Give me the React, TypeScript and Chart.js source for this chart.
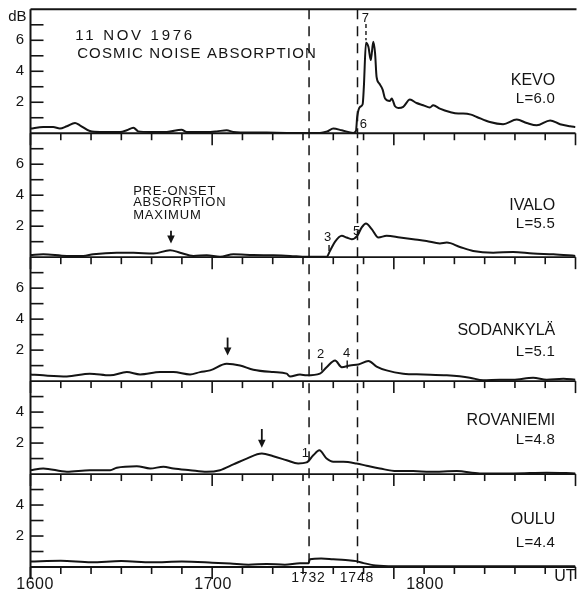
import { useEffect, useRef } from "react";
import { Chart, registerables } from "chart.js";

Chart.register(...registerables);

// Time in minutes after 1600 UT, absorption in dB
const kevoTime = [0, 4.2, 7.5, 9.7, 12, 14.7, 16.3, 19.6, 23, 29.6, 31.8, 34, 35.6, 39.5, 45, 49.9, 51.6, 58.2, 61.5, 64.8, 67, 72.5, 78, 84.6, 95.6, 98, 100, 102.8, 106.6, 107.5, 107.9, 108.8, 109.7, 110.1, 110.8, 111.6, 112.4, 113.2, 113.8, 114.3, 115.2, 116.3, 117.1, 118.7, 119.3, 120.4, 121.5, 123.1, 125.3, 127.5, 129.7, 131.9, 133, 135.2, 138.5, 141.3, 142.9, 145.5, 147.4, 151.7, 156.1, 160.6, 163.9, 167.2, 171.6, 174.9, 178.2, 180];
const kevoDb = [0.3, 0.4, 0.4, 0.3, 0.45, 0.66, 0.51, 0.14, 0.08, 0.08, 0.19, 0.36, 0.12, 0.08, 0.08, 0.23, 0.08, 0.08, 0.12, 0.19, 0.08, 0.04, 0.04, 0.02, 0.02, 0.12, 0.3, 0.19, 0.02, 0.15, 1.05, 1.7, 1.87, 2.99, 5.84, 5.58, 4.72, 5.9, 5.17, 3.64, 3.21, 2.82, 2.24, 2.08, 2.24, 1.74, 1.63, 1.7, 2.17, 1.95, 1.81, 1.66, 1.81, 1.59, 1.37, 1.27, 1.27, 1.2, 1.05, 0.72, 0.58, 0.88, 0.66, 0.51, 0.83, 0.58, 0.45, 0.4];

const ivaloTime = [0, 4.2, 12, 17.4, 20.7, 28.5, 34, 40.6, 46.1, 49.4, 53.8, 58.2, 62.6, 67, 73.6, 80.2, 85.7, 91.2, 97.8, 98.9, 100.6, 102.8, 104.4, 106.1, 107.9, 109.4, 110.8, 112.7, 114.9, 117.6, 122, 126.4, 130.8, 135.2, 137.5, 141.8, 146.2, 152.8, 159.4, 166, 172.7, 180];
const ivaloDb = [0.14, 0.19, 0.08, 0.08, 0.19, 0.29, 0.29, 0.23, 0.45, 0.29, 0.08, 0.12, 0.02, 0.19, 0.14, 0.12, 0.08, 0.02, 0.02, 0.4, 1.0, 1.38, 1.27, 1.16, 1.38, 1.92, 2.18, 1.81, 1.27, 1.38, 1.27, 1.16, 1.05, 0.88, 0.94, 0.66, 0.4, 0.29, 0.34, 0.23, 0.19, 0.08];

const sodankylaTime = [0, 4.2, 12, 19.6, 26.3, 31.8, 36.2, 42.8, 47.2, 52.7, 56, 59.3, 64.8, 69.2, 73.6, 80.2, 84.6, 85.7, 89, 91.2, 95.6, 97.8, 100.6, 102.8, 105.5, 108.3, 111.6, 114.3, 117.6, 123.1, 129.7, 137.5, 145.1, 149.5, 155, 159.4, 166, 170.5, 176, 180];
const sodankylaDb = [0.43, 0.37, 0.3, 0.48, 0.37, 0.58, 0.43, 0.58, 0.58, 0.43, 0.58, 0.69, 1.12, 1.01, 0.73, 0.58, 0.48, 0.3, 0.43, 0.37, 0.48, 0.9, 1.33, 0.9, 1.01, 1.07, 1.29, 0.94, 0.69, 0.48, 0.43, 0.37, 0.22, 0.05, 0.09, 0.09, 0.22, 0.09, 0.15, 0.09];

const rovaniemiTime = [0, 4.2, 12, 19.6, 26.3, 28.5, 35.1, 39.5, 43.9, 47.2, 52.7, 58.2, 62.6, 67, 71.4, 76.4, 80.2, 84.6, 88.4, 91.2, 93.4, 95.4, 97.8, 100, 103.3, 107.7, 111, 115.4, 120.9, 126.4, 131.9, 140.8, 148.4, 159.4, 170.5, 180];
const rovaniemiDb = [0.25, 0.36, 0.15, 0.25, 0.25, 0.41, 0.51, 0.36, 0.47, 0.36, 0.25, 0.15, 0.25, 0.62, 1.0, 1.32, 1.15, 0.89, 0.68, 0.75, 1.21, 1.53, 1.0, 0.79, 0.79, 0.68, 0.54, 0.36, 0.19, 0.19, 0.15, 0.19, 0.04, 0.04, 0.09, 0.04];

const ouluTime = [0, 10, 20, 30, 40, 50, 60, 66, 72, 78, 84, 89, 91.8, 92.3, 96, 100, 104, 107.6, 110, 114, 120, 135, 150, 165, 180];
const ouluDb = [0.35, 0.4, 0.3, 0.38, 0.3, 0.35, 0.28, 0.22, 0.15, 0.2, 0.15, 0.25, 0.25, 0.5, 0.55, 0.5, 0.45, 0.38, 0.25, 0.1, 0.05, 0.05, 0.05, 0.05, 0.05];

const stationNames = ["KEVO", "IVALO", "SODANKYLÄ", "ROVANIEMI", "OULU"];
const stationL = ["L=6.0", "L=5.5", "L=5.1", "L=4.8", "L=4.4"];
const panelMax = [8, 8, 8, 6, 6];
const yTickLabels = ["2", "4", "6"];

const xTickStep = 10; // minutes
const xLabels = ["1600", "1700", "1732", "1748", "1800"];
const onsetTimes = [92, 108]; // 1732 and 1748 UT

const seriesTime = [kevoTime, ivaloTime, sodankylaTime, rovaniemiTime, ouluTime];
const seriesDb = [kevoDb, ivaloDb, sodankylaDb, rovaniemiDb, ouluDb];
const panelIds = ["yKevo", "yIvalo", "ySod", "yRov", "yOulu"];

const FONT = '"Liberation Sans", Arial, Helvetica, sans-serif';
const INK = "#141414";

// annotation layout (positions in time / dB of each panel)
const xLabelAt = [1.5, 60.3, 91.8, 107.8, 130.3];
const xLabelInner = [false, false, true, true, false];
const nameDb = [3.39, 3.32, 3.29, 3.45, 3.09];
const lDb = [2.19, 2.16, 1.91, 2.21, 1.58];
const arrows = [
  { panel: 1, t: 46.4, from: 1.7, to: 0.88 },
  { panel: 2, t: 65.1, from: 2.81, to: 1.65 },
  { panel: 3, t: 76.4, from: 2.91, to: 1.7 },
];
const markers = [
  { panel: 0, text: "7", t: 110.6, db: 7.4 },
  { panel: 0, text: "6", t: 109.9, db: 0.6 },
  { panel: 1, text: "3", t: 98.1, db: 1.28 },
  { panel: 1, text: "5", t: 107.7, db: 1.67 },
  { panel: 2, text: "2", t: 95.8, db: 1.72 },
  { panel: 2, text: "4", t: 104.4, db: 1.81 },
  { panel: 3, text: "1", t: 90.8, db: 1.35 },
];
const markerTicks = [
  { panel: 1, t: 98.6, from: 0.79, to: 0.4, dash: false },
  { panel: 2, t: 96.2, from: 1.2, to: 0.69, dash: false },
  { panel: 2, t: 104.6, from: 1.33, to: 0.82, dash: false },
  { panel: 0, t: 110.8, from: 7.05, to: 6.0, dash: true },
];

const overlay = {
  id: "overlay",
  afterDatasetsDraw(chart: any) {
    const ctx: CanvasRenderingContext2D = chart.ctx;
    const xs = chart.scales.x;
    const area = chart.chartArea;
    const X = (t: number) => xs.getPixelForValue(t);
    const Y = (p: number, v: number) => chart.scales[panelIds[p]].getPixelForValue(v);
    const seg = (x1: number, y1: number, x2: number, y2: number, w: number) => {
      ctx.lineWidth = w;
      ctx.beginPath();
      ctx.moveTo(x1, y1);
      ctx.lineTo(x2, y2);
      ctx.stroke();
    };
    const text = (s: string, x: number, y: number, size: number, align: CanvasTextAlign, ls = 0) => {
      ctx.font = `${size}px ${FONT}`;
      (ctx as any).letterSpacing = `${ls}px`;
      ctx.textAlign = align;
      ctx.textBaseline = "middle";
      ctx.fillText(s, x, y);
      (ctx as any).letterSpacing = "0px";
    };

    ctx.save();
    ctx.strokeStyle = INK;
    ctx.fillStyle = INK;
    ctx.lineCap = "butt";

    // frame
    seg(area.left, area.top, area.right + 1, area.top, 2);
    seg(area.left, area.top, area.left, area.bottom + 12, 2);

    for (let p = 0; p < panelIds.length; p++) {
      const y0 = Y(p, 0);
      seg(area.left, y0, area.right, y0, 1.8);
      // x ticks hanging below each baseline
      for (let t = 0; t <= 180; t += xTickStep) {
        const major = t % 60 === 0;
        seg(X(t), y0, X(t), y0 + (major ? 12 : 7), 1.6);
      }
      // inward y ticks
      for (let v = 1; v < panelMax[p]; v++) {
        const y = Y(p, v);
        seg(area.left, y, area.left + 13, y, 1.6);
      }
      for (const lab of yTickLabels) {
        const v = Number(lab);
        if (v < panelMax[p]) text(lab, area.left - 6.5, Y(p, v), 15, "right");
      }
      // station labels
      text(stationNames[p], X(173.3), Y(p, nameDb[p]), 16, "right");
      text(stationL[p], X(173.3), Y(p, lDb[p]), 15, "right", 0.3);
    }

    text("dB", area.left - 4, Y(0, 8) + 8, 15, "right");

    // onset dashed lines
    ctx.setLineDash([10, 7]);
    for (const t of onsetTimes) seg(X(t), area.top, X(t), area.bottom, 1.5);
    ctx.setLineDash([]);

    // x labels
    for (let i = 0; i < xLabels.length; i++) {
      if (xLabelInner[i]) text(xLabels[i], X(xLabelAt[i]), area.bottom + 11, 14, "center", 0.8);
      else text(xLabels[i], X(xLabelAt[i]), area.bottom + 18, 16, "center", 0.5);
    }
    text("UT", area.right, area.bottom + 10, 16, "right");

    // title
    text("11 NOV 1976", X(14.8), Y(0, 6.27), 15, "left", 2.7);
    text("COSMIC NOISE ABSORPTION", X(15.4), Y(0, 5.14), 15, "left", 1.15);

    // pre-onset annotation
    const pre = ["PRE-ONSET", "ABSORPTION", "MAXIMUM"];
    const preDb = [4.27, 3.52, 2.71];
    pre.forEach((s, i) => text(s, X(33.9), Y(1, preDb[i]), 13, "left", 0.8));

    // arrows
    for (const a of arrows) {
      const x = X(a.t);
      const y1 = Y(a.panel, a.from);
      const y2 = Y(a.panel, a.to);
      seg(x, y1, x, y2 - 6, 1.8);
      ctx.beginPath();
      ctx.moveTo(x - 3.8, y2 - 8);
      ctx.lineTo(x + 3.8, y2 - 8);
      ctx.lineTo(x, y2);
      ctx.closePath();
      ctx.fill();
    }

    // numbered markers
    for (const m of markers) text(m.text, X(m.t), Y(m.panel, m.db), 13, "center");
    for (const k of markerTicks) {
      if (k.dash) ctx.setLineDash([4, 3]);
      seg(X(k.t), Y(k.panel, k.from), X(k.t), Y(k.panel, k.to), 1.4);
      ctx.setLineDash([]);
    }
    ctx.restore();
  },
};

export default function App() {
  const ref = useRef<HTMLCanvasElement | null>(null);

  useEffect(() => {
    if (!ref.current) return;
    const datasets = panelIds.map((id, p) => ({
      label: stationNames[p],
      data: seriesTime[p].map((t, i) => ({ x: t, y: seriesDb[p][i] })),
      yAxisID: id,
      borderColor: INK,
      borderWidth: 2,
      pointRadius: 0,
      cubicInterpolationMode: "monotone" as const,
      fill: false,
    }));

    const scales: any = {
      x: { type: "linear", min: 0, max: 180, display: false },
    };
    // defined bottom-to-top: later-defined stacked left axes are placed higher
    for (let p = panelIds.length - 1; p >= 0; p--) {
      scales[panelIds[p]] = {
        type: "linear",
        position: "left",
        stack: "panels",
        stackWeight: panelMax[p],
        min: 0,
        max: panelMax[p],
        display: false,
      };
    }

    const chart = new Chart(ref.current, {
      type: "line",
      data: { datasets },
      options: {
        responsive: false,
        animation: false,
        layout: { padding: { left: 30.5, right: 1.5, top: 9.3, bottom: 37 } },
        plugins: { legend: { display: false }, tooltip: { enabled: false } },
        scales,
      },
      plugins: [overlay],
    });
    return () => chart.destroy();
  }, []);

  return (
    <div style={{ position: "fixed", left: 0, top: 0, width: 577, height: 604, background: "#fff" }}>
      <canvas ref={ref} width={577} height={604} />
    </div>
  );
}
